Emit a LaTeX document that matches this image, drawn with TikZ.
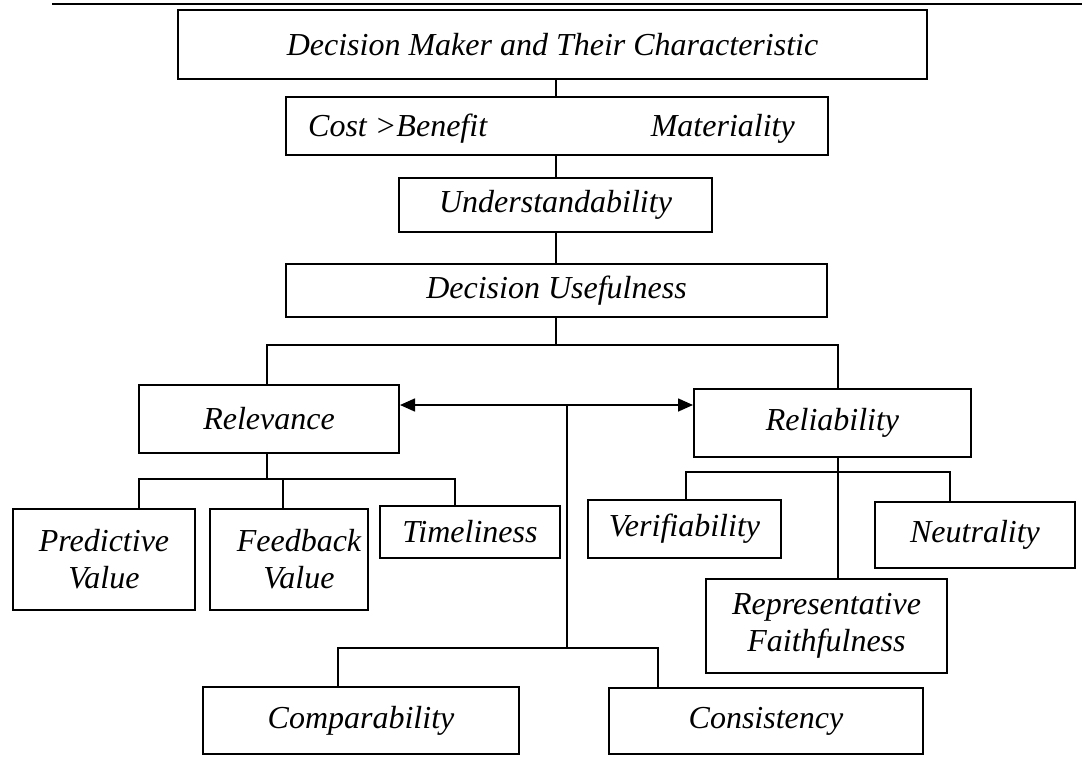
\documentclass[tikz,border=0pt]{standalone}
\usepackage{fontspec}
\setmainfont{Liberation Serif}
\usetikzlibrary{arrows.meta}
\begin{document}
\begin{tikzpicture}[x=1pt,y=-1pt,
  box/.style={draw,line width=2pt,inner sep=0pt,align=center,
    font=\fontsize{32}{37}\selectfont\itshape},
  lbl/.style={inner sep=0pt,font=\fontsize{32}{37}\selectfont\itshape},
  conn/.style={line width=1.4pt},
  dbl/.style={line width=1.6pt,{Triangle[length=15pt,width=13pt]}-{Triangle[length=15pt,width=13pt]}}]
\useasboundingbox (0,0) rectangle (1082,756);
\draw[line width=2.5pt] (52,4) -- (1082,4);
% boxes
\node[box,minimum width=749pt,minimum height=69pt] (dm) at (552.5,44.5) {Decision Maker and Their Characteristic};
\node[box,minimum width=542pt,minimum height=58pt] (cb) at (557,126) {};
\node[lbl,anchor=base west] (cbt) at (308,136) {Cost >Benefit};
\node[lbl,anchor=base east] (mat) at (795,136) {Materiality};
\node[box,minimum width=313pt,minimum height=54pt] (un) at (555.5,205) {Understandability};
\node[box,minimum width=541pt,minimum height=53pt] (du) at (556.5,290.5) {Decision Usefulness};
\node[box,minimum width=260pt,minimum height=68pt] (rel) at (269,419) {Relevance};
\node[box,minimum width=277pt,minimum height=68pt] (rlb) at (832.5,423) {Reliability};
\node[box,minimum width=182pt,minimum height=101pt] (pv) at (104,559.5) {Predictive\\Value};
\node[box,minimum width=158pt,minimum height=101pt] (fv) at (289,559.5) {};
\node[lbl,align=center] (fvt) at (299,559.5) {Feedback\\Value};
\node[box,minimum width=180pt,minimum height=52pt] (tl) at (470,532) {Timeliness};
\node[box,minimum width=193pt,minimum height=58pt] (vf) at (684.5,529) {Verifiability};
\node[box,minimum width=200pt,minimum height=66pt] (nt) at (975,535) {Neutrality};
\node[box,minimum width=241pt,minimum height=94pt] (rf) at (826.5,626) {Representative\\Faithfulness};
\node[box,minimum width=316pt,minimum height=67pt] (cp) at (361,720.5) {Comparability};
\node[box,minimum width=314pt,minimum height=66pt] (cs) at (766,721) {Consistency};
% helper coordinates
\coordinate (xm) at (556,0);
\coordinate (j1) at (556,345);
\coordinate (xl) at (267,0);
\coordinate (xr) at (838,0);
\coordinate (ay) at (0,405);
\coordinate (c1) at (567,405);
\coordinate (c2) at (567,648);
\coordinate (cl) at (338,648);
\coordinate (cr) at (658,648);
\coordinate (r1) at (267,479);
\coordinate (ra) at (139,479);
\coordinate (rb) at (283,479);
\coordinate (rc) at (455,479);
\coordinate (sa) at (686,472);
\coordinate (sb) at (950,472);
% connectors
\draw[conn] (xm |- dm.south) -- (xm |- cb.north);
\draw[conn] (xm |- cb.south) -- (xm |- un.north);
\draw[conn] (xm |- un.south) -- (xm |- du.north);
\draw[conn] (xm |- du.south) -- (j1);
\draw[conn] (xl |- rel.north) -- (xl |- j1) -- (xr |- j1) -- (xr |- rlb.north);
\draw[dbl] (rel.east |- ay) -- (rlb.west |- ay);
\draw[conn] (c1) -- (c2);
\draw[conn] (cl |- cp.north) -- (cl) -- (cr) -- (cr |- cs.north);
\draw[conn] (xl |- rel.south) -- (r1);
\draw[conn] (ra |- pv.north) -- (ra) -- (rc) -- (rc |- tl.north);
\draw[conn] (rb) -- (rb |- fv.north);
\draw[conn] (xr |- rlb.south) -- (xr |- rf.north);
\draw[conn] (sa |- vf.north) -- (sa) -- (sb) -- (sb |- nt.north);
\end{tikzpicture}
\end{document}
